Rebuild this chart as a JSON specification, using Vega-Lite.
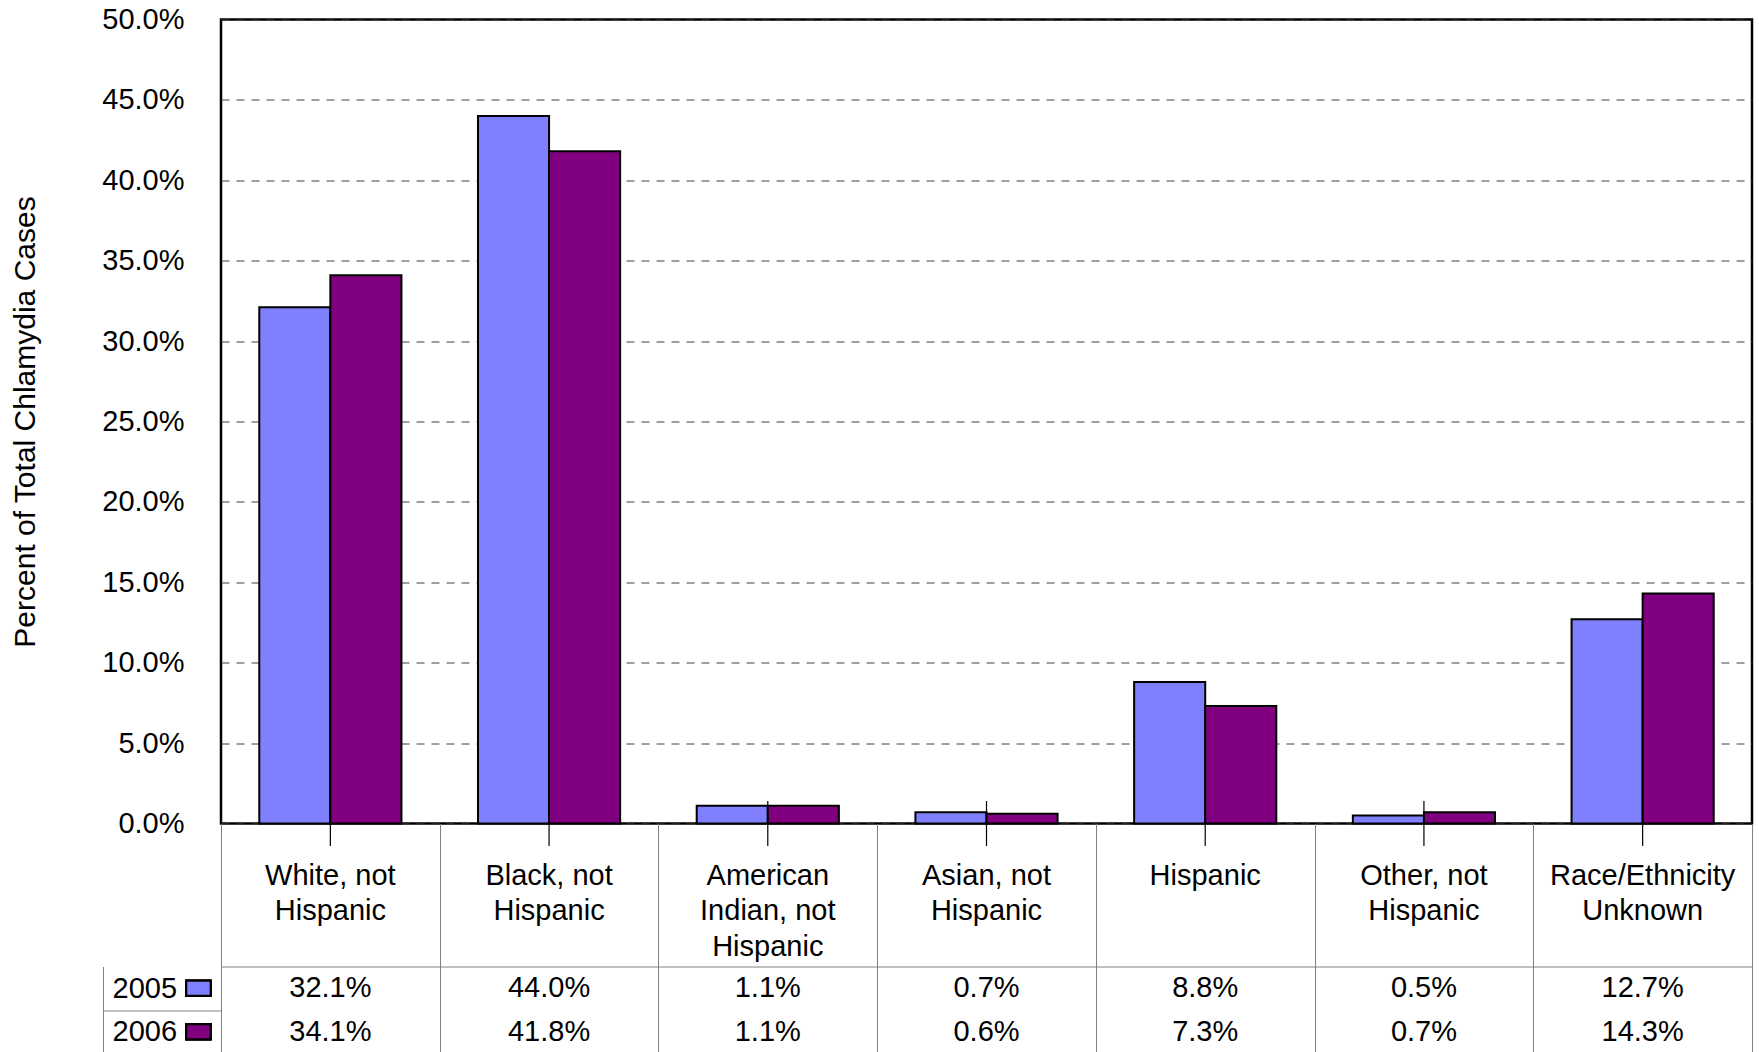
{
  "$schema": "https://vega.github.io/schema/vega-lite/v6.json",
  "padding": {"left": 9, "top": 3.5, "right": 0, "bottom": 0},
  "background": "white",
  "config": {
    "font": "Liberation Sans",
    "view": {"stroke": null},
    "axis": {"labelFont": "Liberation Sans", "titleFont": "Liberation Sans"}
  },
  "data": {
    "values": [
      {"cat": "White, not\nHispanic", "year": "2005", "val": 0.321},
      {"cat": "White, not\nHispanic", "year": "2006", "val": 0.341},
      {"cat": "Black, not\nHispanic", "year": "2005", "val": 0.440},
      {"cat": "Black, not\nHispanic", "year": "2006", "val": 0.418},
      {"cat": "American\nIndian, not\nHispanic", "year": "2005", "val": 0.011},
      {"cat": "American\nIndian, not\nHispanic", "year": "2006", "val": 0.011},
      {"cat": "Asian, not\nHispanic", "year": "2005", "val": 0.007},
      {"cat": "Asian, not\nHispanic", "year": "2006", "val": 0.006},
      {"cat": "Hispanic", "year": "2005", "val": 0.088},
      {"cat": "Hispanic", "year": "2006", "val": 0.073},
      {"cat": "Other, not\nHispanic", "year": "2005", "val": 0.005},
      {"cat": "Other, not\nHispanic", "year": "2006", "val": 0.007},
      {"cat": "Race/Ethnicity\nUnknown", "year": "2005", "val": 0.127},
      {"cat": "Race/Ethnicity\nUnknown", "year": "2006", "val": 0.143}
    ]
  },
  "spacing": 0,
  "bounds": "flush",
  "vconcat": [
    {
      "width": 1531,
      "height": 804,
      "view": {"stroke": "black", "strokeWidth": 2.5},
      "layer": [
        {
          "transform": [{"filter": "datum.year === '2005'"}],
          "mark": {"type": "rule", "color": "black", "strokeWidth": 1.2, "yOffset": -22.5, "y2Offset": 22.5},
          "encoding": {
            "x": {"field": "cat", "type": "nominal", "sort": null, "scale": {"paddingInner": 0.35, "paddingOuter": 0.175}, "axis": null},
            "y": {"datum": 0, "type": "quantitative"},
            "y2": {"datum": 0}
          }
        },
        {
          "mark": {"type": "bar", "stroke": "black", "strokeWidth": 2},
          "encoding": {
            "x": {"field": "cat", "type": "nominal", "sort": null, "scale": {"paddingInner": 0.35, "paddingOuter": 0.175}, "axis": null},
            "xOffset": {"field": "year", "type": "nominal", "scale": {"paddingInner": 0, "paddingOuter": 0}},
            "y": {
              "field": "val", "type": "quantitative",
              "scale": {"domain": [0, 0.5], "nice": false},
              "axis": {
                "values": [0, 0.05, 0.1, 0.15, 0.2, 0.25, 0.3, 0.35, 0.4, 0.45, 0.5],
                "format": ".1%",
                "ticks": false,
                "domain": false,
                "grid": true,
                "gridDash": [8, 7],
                "gridColor": "#404040",
                "gridWidth": 1,
                "labelFontSize": 29,
                "labelColor": "black",
                "labelPadding": 37,
                "title": "Percent of Total Chlamydia Cases",
                "titleFontSize": 30,
                "titleFontWeight": "normal",
                "titleColor": "black",
                "titlePadding": 61
              }
            },
            "color": {"field": "year", "type": "nominal", "scale": {"domain": ["2005", "2006"], "range": ["#8080FF", "#800080"]}, "legend": null}
          }
        }
      ]
    },
    {
      "width": 1531,
      "height": 143,
      "transform": [{"filter": "datum.year === '2005'"}],
      "mark": {"type": "text", "fontSize": 29, "lineBreak": "\n", "lineHeight": 35.5, "baseline": "alphabetic", "dy": -10.5, "color": "black"},
      "encoding": {
        "x": {
          "field": "cat", "type": "nominal", "sort": null,
          "scale": {"paddingInner": 0, "paddingOuter": 0},
          "axis": {"orient": "bottom", "title": null, "labels": false, "ticks": false, "domain": true, "domainColor": "#808080", "domainWidth": 1, "grid": true, "gridColor": "#808080", "gridWidth": 1, "tickBand": "extent"}
        },
        "text": {"field": "cat"}
      }
    },
    {
      "width": 1531,
      "height": 87,
      "layer": [
        {
          "mark": {"type": "text", "fontSize": 29, "color": "black"},
          "encoding": {
            "x": {
              "field": "cat", "type": "nominal", "sort": null,
              "scale": {"paddingInner": 0, "paddingOuter": 0},
              "axis": {"orient": "bottom", "title": null, "labels": false, "ticks": false, "domain": false, "grid": true, "gridColor": "#808080", "gridWidth": 1, "tickBand": "extent"}
            },
            "y": {
              "field": "year", "type": "nominal",
              "scale": {"domain": ["2005", "2006"], "paddingInner": 0, "paddingOuter": 0},
              "axis": {
                "orient": "left", "title": null, "offset": 118,
                "domain": true, "domainColor": "#808080", "domainWidth": 1,
                "ticks": true, "tickSize": -118, "tickBand": "extent", "tickWidth": 1,
                "tickColor": {"condition": {"test": "datum.value === '2005'", "value": "#808080"}, "value": "transparent"},
                "labelAlign": "left", "labelPadding": 109, "labelFontSize": 29, "labelColor": "black", "labelBaseline": "middle"
              }
            },
            "text": {"field": "val", "type": "quantitative", "format": ".1%"}
          }
        },
        {
          "mark": {"type": "point", "shape": "M-1.625,-1L1.625,-1L1.625,1L-1.625,1Z", "size": 225, "filled": true, "stroke": "black", "strokeWidth": 2, "strokeOpacity": 1, "opacity": 1, "xOffset": -131.9},
          "encoding": {
            "x": {"datum": "White, not\nHispanic", "type": "nominal"},
            "y": {"field": "year", "type": "nominal"},
            "fill": {"field": "year", "type": "nominal", "scale": {"domain": ["2005", "2006"], "range": ["#8080FF", "#800080"]}, "legend": null}
          }
        }
      ]
    }
  ]
}
